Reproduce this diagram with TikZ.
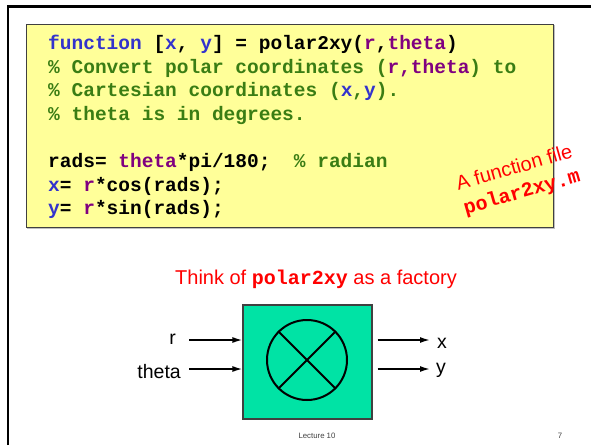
\documentclass[tikz,border=0pt]{standalone}
\usepackage{fontspec}
\setmainfont{Liberation Sans}
\setmonofont{Liberation Mono}
\usetikzlibrary{arrows.meta,positioning}

\definecolor{memo}{HTML}{FFFF99}
\definecolor{codeblue}{HTML}{3333CC}
\definecolor{codevar}{HTML}{800080}
\definecolor{codecmt}{HTML}{3A7D14}
\definecolor{factorygreen}{HTML}{00E3A5}
\definecolor{edgegray}{HTML}{404040}

\newcommand{\codefont}{\fontsize{19.5}{23.6}\selectfont\ttfamily\bfseries}
\newcommand{\kwd}[1]{\textcolor{codeblue}{#1}}
\newcommand{\outv}[1]{\textcolor{codeblue}{#1}}
\newcommand{\argv}[1]{\textcolor{codevar}{#1}}
\newcommand{\cmt}[1]{\textcolor{codecmt}{#1}}

\tikzset{
	codeline/.style = {anchor = base west, inner sep = 0pt, font = \codefont},
	signal/.style = {line width = 1.6pt, -{Latex[length = 10pt, width = 6pt]}},
	portlabel/.style = {inner sep = 0pt, font = \fontsize{19.5}{22}\selectfont},
	redtext/.style = {text = red, inner sep = 0pt, font = \fontsize{20}{22}\selectfont},
}

\begin{document}
\begin{tikzpicture} [x = 1pt, y = -1pt]
	\useasboundingbox (0,0) rectangle (591,445);
	% slide frame
	\draw [line width = 2.5pt] (8,445) -- (8,6.5) -- (591,6.5);
	% the function file
	\draw [black!25, line width = 1.5pt] (27.5,25.5) rectangle (554.5,228.5);
	\draw [fill = memo, draw = edgegray, line width = 1pt] (26,24) rectangle (553,227);
	\node [codeline] (line1) at (48,49.5) {\kwd{function} [\outv{x}, \outv{y}] = polar2xy(\argv{r},\argv{theta})};
	\node [codeline] (line2) at (48,73.3) {\cmt{\% Convert polar coordinates (}\argv{r,theta}\cmt{) to}};
	\node [codeline] (line3) at (48,96.8) {\cmt{\% Cartesian coordinates (}\outv{x}\cmt{,}\outv{y}\cmt{).}};
	\node [codeline] (line4) at (48,120.3) {\cmt{\% theta is in degrees.}};
	\node [codeline] (line6) at (48,167.5) {rads= \argv{theta}*pi/180;~~\cmt{\% radian}};
	\node [codeline] (line7) at (48,191) {\outv{x}= \argv{r}*cos(rads);};
	\node [codeline] (line8) at (48,214.5) {\outv{y}= \argv{r}*sin(rads);};
	\node [redtext, rotate = 16] (filenote) at (514,167) {A function file};
	\node [redtext, rotate = 16, font = \fontsize{20}{22}\selectfont\ttfamily\bfseries] (filename) at (522,193) {polar2xy.m};
	% the factory
	\node [redtext, anchor = base] (title) at (316,284) {Think of \texttt{\bfseries polar2xy} as a factory};
	\node [fill = factorygreen, draw = edgegray, line width = 1.2pt, minimum width = 129pt, minimum height = 114pt] (box) at (307.5,362) {};
	\node [circle, draw, line width = 2pt, inner sep = 0pt, minimum size = 80pt] (mixer) at (307,360) {};
	\draw [line width = 2pt] (mixer.45) -- (mixer.225);
	\draw [line width = 2pt] (mixer.135) -- (mixer.-45);
	\coordinate (rin) at (189,340);
	\coordinate (thetain) at (189,369);
	\coordinate (xout) at (430,340);
	\coordinate (yout) at (430,369);
	\node [portlabel, anchor = base east] (r) at (176,344) {r};
	\node [portlabel, anchor = base east] (theta) at (181,378) {theta};
	\node [portlabel, anchor = base west] (x) at (437,348) {x};
	\node [portlabel, anchor = base west] (y) at (436,373) {y};
	\draw [signal] (rin) -- (rin -| box.west);
	\draw [signal] (thetain) -- (thetain -| box.west);
	\draw [signal] (xout -| box.east) ++(5pt,0) -- (xout);
	\draw [signal] (yout -| box.east) ++(5pt,0) -- (yout);
	% footer
	\node [text = black!75, font = \fontsize{7.8}{9}\selectfont] (lecture) at (317,436) {Lecture 10};
	\node [text = black!75, font = \fontsize{7.8}{9}\selectfont] (page) at (560,436) {7};
\end{tikzpicture}
\end{document}
